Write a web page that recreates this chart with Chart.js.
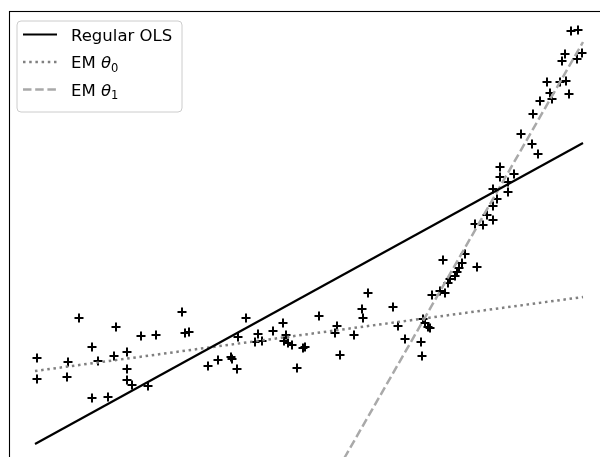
<!DOCTYPE html>
<html>
<head>
<meta charset="utf-8">
<script src="https://cdn.jsdelivr.net/npm/chart.js@4.4.0/dist/chart.umd.min.js"></script>
<style>
  html, body { margin: 0; padding: 0; background: #fff; overflow: hidden; }
</style>
</head>
<body>
<canvas id="out" width="610" height="500"></canvas>
<script>
// observed points (x, y)
const xs = [37, 37, 68, 67, 79, 92, 92, 98, 108, 116, 114, 127, 127, 127, 132, 141, 148, 156, 182, 185,
  189, 208, 218, 231, 232, 237, 246, 238, 258, 255, 262, 273, 283, 286, 284, 288, 292, 303, 305, 297,
  319, 337, 335, 340, 354, 362, 363, 368, 393, 398, 405, 421, 422, 423, 425, 428, 430, 432, 440, 445,
  443, 448, 450, 455, 457, 459, 462, 465, 477, 475, 483, 487, 493, 493, 497, 493, 508, 508, 500, 500,
  514, 521, 532, 538, 533, 540, 552, 550, 569, 547, 560, 566, 562, 565, 577, 582, 571, 578];
const ys = [142, 121, 138, 123, 182, 153, 102, 139, 103, 173, 144, 148, 131, 120, 115, 164, 114, 165, 188, 167,
  168, 134, 140, 143, 141, 131, 182, 163, 166, 158, 159, 169, 177, 165, 159, 157, 155, 152, 153, 132,
  184, 174, 167, 145, 165, 191, 182, 207, 193, 174, 161, 158, 144, 181, 177, 173, 172, 205, 209, 207,
  240, 217, 221, 224, 228, 232, 237, 246, 233, 276, 275, 285, 280, 294, 301, 311, 308, 318, 323, 333,
  326, 366, 356, 346, 386, 399, 401, 407, 406, 418, 418, 419, 439, 446, 441, 447, 469, 470];

// fitted lines, end points
const olsX = [35, 583];
const olsY = [56, 357];
const em0X = [35, 583];
const em0Y = [129, 203];
const em1X = [326, 583];
const em1Y = [10, 458];

const legendLabels = ["Regular OLS", "EM θ₀", "EM θ₁"];

function pts(a, b) {
  return a.map((v, i) => ({ x: v, y: b[i] }));
}

const FONT = "'DejaVu Sans', sans-serif";
const SUB = { "₀": "0", "₁": "1" };

function drawLabel(ctx, text, x, y) {
  const m = text.match(/^(.*?)(θ)([₀₁])$/);
  ctx.fillStyle = "#000";
  ctx.textBaseline = "alphabetic";
  ctx.textAlign = "left";
  ctx.font = "16.5px " + FONT;
  if (!m) {
    ctx.fillText(text, x, y);
    return;
  }
  ctx.fillText(m[1], x, y);
  x += ctx.measureText(m[1]).width;
  ctx.font = "italic 16.5px " + FONT;
  ctx.fillText(m[2], x, y);
  x += ctx.measureText(m[2]).width;
  ctx.font = "11.5px " + FONT;
  ctx.fillText(SUB[m[3]], x, y + 3.5);
}

const frame = {
  id: "frame",
  afterDatasetsDraw(chart) {
    const { ctx, chartArea: a } = chart;
    ctx.save();
    ctx.strokeStyle = "#000";
    ctx.lineWidth = 1.1;
    ctx.strokeRect(a.left + 0.5, a.top + 0.5, a.right - a.left, a.bottom - a.top);
    ctx.restore();
  }
};

const boxLegend = {
  id: "boxLegend",
  afterDraw(chart) {
    const ctx = chart.ctx;
    ctx.save();
    ctx.beginPath();
    ctx.roundRect(17, 21, 165, 91, 4);
    ctx.fillStyle = "rgba(255,255,255,0.8)";
    ctx.fill();
    ctx.strokeStyle = "#cccccc";
    ctx.lineWidth = 1;
    ctx.stroke();
    const rows = [34.5, 62, 89.5];
    chart.data.datasets.slice(0, 3).forEach((ds, i) => {
      ctx.beginPath();
      ctx.setLineDash(ds.borderDash || []);
      ctx.strokeStyle = ds.borderColor;
      ctx.lineWidth = ds.borderWidth;
      ctx.moveTo(23, rows[i]);
      ctx.lineTo(57, rows[i]);
      ctx.stroke();
      ctx.setLineDash([]);
      drawLabel(ctx, legendLabels[i], 71, rows[i] + 6);
    });
    ctx.restore();
  }
};

const chartConfig = {
  type: "scatter",
  data: {
    datasets: [
      {
        label: legendLabels[0],
        type: "line",
        data: pts(olsX, olsY),
        borderColor: "#000",
        borderWidth: 2.2,
        pointRadius: 0,
        order: 1
      },
      {
        label: legendLabels[1],
        type: "line",
        data: pts(em0X, em0Y),
        borderColor: "#808080",
        borderWidth: 2.5,
        borderDash: [2.5, 3.7],
        pointRadius: 0,
        order: 2
      },
      {
        label: legendLabels[2],
        type: "line",
        data: pts(em1X, em1Y),
        borderColor: "#a9a9a9",
        borderWidth: 2.5,
        borderDash: [8.5, 3.7],
        pointRadius: 0,
        order: 3
      },
      {
        label: "data",
        data: pts(xs, ys),
        pointStyle: "cross",
        pointRadius: 4.5,
        pointBorderWidth: 2,
        borderColor: "#000",
        backgroundColor: "#000",
        order: 4
      }
    ]
  },
  options: {
    responsive: false,
    animation: false,
    layout: { autoPadding: false, padding: { left: 9, top: 11, right: 0, bottom: 0 } },
    scales: {
      x: { type: "linear", min: 9, max: 610, display: false },
      y: { type: "linear", min: 0, max: 489, display: false }
    },
    plugins: {
      legend: { display: false },
      tooltip: { enabled: false }
    }
  },
  plugins: [frame, boxLegend]
};

window.chart = new Chart(document.getElementById("out").getContext("2d"), chartConfig);
</script>
</body>
</html>
